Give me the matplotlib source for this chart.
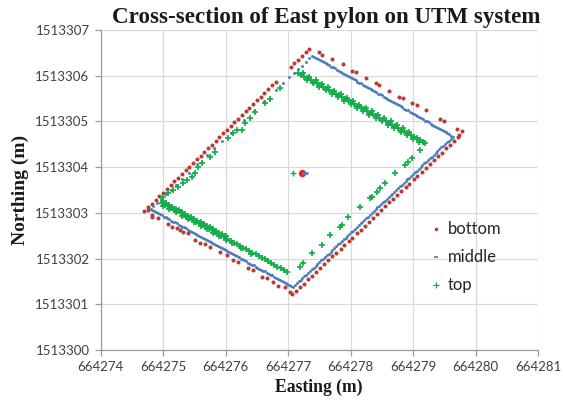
import matplotlib
matplotlib.use("Agg")
import matplotlib.pyplot as plt
from matplotlib.ticker import FormatStrFormatter
from matplotlib.lines import Line2D

# ---- survey points (UTM easting / northing, metres) ----
bottom_e = [
    # north-west face
    664274.70, 664274.76, 664274.82, 664274.88, 664274.94, 664275.00, 664275.06, 664275.12,
    664275.18, 664275.24, 664275.30, 664275.36, 664275.42, 664275.48, 664275.54, 664275.60,
    664275.66, 664275.72, 664275.78, 664275.84, 664275.90, 664275.96, 664276.02, 664276.08,
    664276.14, 664276.20, 664276.26, 664276.32, 664276.38, 664276.44, 664276.50, 664276.56,
    664276.62, 664276.68, 664276.74, 664276.80, 664277.04, 664277.10, 664277.16, 664277.22,
    664277.28, 664277.33,
    # north-east face
    664277.49, 664277.55, 664277.70, 664277.88, 664278.02, 664278.09, 664278.25, 664278.40,
    664278.46, 664278.62, 664278.78, 664278.84, 664278.99, 664279.06, 664279.20, 664279.43,
    664279.50, 664279.71, 664279.78, 664279.74,
    # south-east face
    664277.07, 664277.13, 664277.19, 664277.25, 664277.32, 664277.38, 664277.45, 664277.51,
    664277.58, 664277.64, 664277.71, 664277.77, 664277.84, 664277.90, 664277.97, 664278.03,
    664278.10, 664278.16, 664278.23, 664278.29, 664278.36, 664278.42, 664278.49, 664278.55,
    664278.62, 664278.68, 664278.75, 664278.81, 664278.88, 664278.94, 664279.01, 664279.07,
    664279.14, 664279.20, 664279.27, 664279.33, 664279.40, 664279.46, 664279.53, 664279.59,
    664279.66, 664279.72,
    # south-west face
    664274.76, 664274.82, 664274.83, 664274.92, 664275.08, 664275.14, 664275.22, 664275.27,
    664275.32, 664275.40, 664275.51, 664275.59, 664275.67, 664275.75, 664275.91, 664276.02,
    664276.12, 664276.20, 664276.36, 664276.44, 664276.58, 664276.66, 664276.76, 664276.84,
    664276.95, 664277.03,
]
bottom_n = [
    1513303.04, 1513303.12, 1513303.20, 1513303.28, 1513303.36, 1513303.44, 1513303.52, 1513303.61,
    1513303.69, 1513303.77, 1513303.85, 1513303.93, 1513304.01, 1513304.09, 1513304.17, 1513304.25,
    1513304.33, 1513304.41, 1513304.49, 1513304.57, 1513304.66, 1513304.74, 1513304.82, 1513304.90,
    1513304.98, 1513305.06, 1513305.14, 1513305.22, 1513305.30, 1513305.38, 1513305.46, 1513305.54,
    1513305.62, 1513305.71, 1513305.79, 1513305.87, 1513306.19, 1513306.27, 1513306.35, 1513306.43,
    1513306.51, 1513306.58,
    1513306.51, 1513306.46, 1513306.37, 1513306.26, 1513306.11, 1513306.08, 1513305.95, 1513305.84,
    1513305.80, 1513305.67, 1513305.54, 1513305.51, 1513305.40, 1513305.35, 1513305.24, 1513305.05,
    1513305.01, 1513304.83, 1513304.78, 1513304.71,
    1513301.22, 1513301.30, 1513301.38, 1513301.45, 1513301.55, 1513301.62, 1513301.71, 1513301.79,
    1513301.88, 1513301.96, 1513302.05, 1513302.13, 1513302.22, 1513302.30, 1513302.39, 1513302.46,
    1513302.55, 1513302.63, 1513302.72, 1513302.80, 1513302.89, 1513302.97, 1513303.06, 1513303.14,
    1513303.23, 1513303.31, 1513303.40, 1513303.47, 1513303.57, 1513303.64, 1513303.73, 1513303.81,
    1513303.90, 1513303.98, 1513304.07, 1513304.15, 1513304.24, 1513304.31, 1513304.41, 1513304.48,
    1513304.57, 1513304.65,
    1513303.06, 1513302.95, 1513302.91, 1513302.89, 1513302.76, 1513302.70, 1513302.67, 1513302.63,
    1513302.59, 1513302.56, 1513302.41, 1513302.35, 1513302.32, 1513302.26, 1513302.14, 1513302.08,
    1513301.97, 1513301.93, 1513301.79, 1513301.75, 1513301.60, 1513301.57, 1513301.49, 1513301.40,
    1513301.38, 1513301.27,
]

middle_e = [
    # north-east face
    664277.39, 664277.45, 664277.51, 664277.57, 664277.63, 664277.69, 664277.75, 664277.81,
    664277.87, 664277.93, 664277.99, 664278.05, 664278.11, 664278.17, 664278.23, 664278.29,
    664278.35, 664278.41, 664278.47, 664278.53, 664278.59, 664278.65, 664278.71, 664278.77,
    664278.83, 664278.89, 664278.95, 664279.01, 664279.07, 664279.13, 664279.19, 664279.25,
    664279.31, 664279.37, 664279.43, 664279.49, 664279.55, 664279.61, 664279.64,
    664277.42, 664277.48, 664277.54, 664277.60, 664277.66, 664277.72, 664277.78, 664277.84,
    664277.90, 664277.96, 664278.02, 664278.08, 664278.14, 664278.20, 664278.26, 664278.32,
    664278.38, 664278.44, 664278.50, 664278.56, 664278.62, 664278.68, 664278.74, 664278.80,
    664278.86, 664278.92, 664278.98, 664279.04, 664279.10, 664279.16, 664279.22, 664279.28,
    664279.34, 664279.40, 664279.46, 664279.52, 664279.58,
    # south-east face
    664277.08, 664277.14, 664277.20, 664277.26, 664277.32, 664277.38, 664277.44, 664277.50,
    664277.56, 664277.62, 664277.68, 664277.74, 664277.80, 664277.86, 664277.92, 664277.98,
    664278.04, 664278.10, 664278.16, 664278.22, 664278.28, 664278.34, 664278.40, 664278.46,
    664278.52, 664278.58, 664278.64, 664278.70, 664278.76, 664278.82, 664278.88, 664278.94,
    664279.00, 664279.06, 664279.12, 664279.18, 664279.24, 664279.30, 664279.36, 664279.42,
    664279.48, 664279.54, 664279.60,
    664277.11, 664277.17, 664277.23, 664277.29, 664277.35, 664277.41, 664277.47, 664277.53,
    664277.59, 664277.65, 664277.71, 664277.77, 664277.83, 664277.89, 664277.95, 664278.01,
    664278.07, 664278.13, 664278.19, 664278.25, 664278.31, 664278.37, 664278.43, 664278.49,
    664278.55, 664278.61, 664278.67, 664278.73, 664278.79, 664278.85, 664278.91, 664278.97,
    664279.03, 664279.09, 664279.15, 664279.21, 664279.27, 664279.33, 664279.39, 664279.45,
    664279.51, 664279.57,
    # south-west face
    664274.80, 664274.86, 664274.92, 664274.98, 664275.04, 664275.10, 664275.16, 664275.22,
    664275.28, 664275.34, 664275.40, 664275.46, 664275.52, 664275.58, 664275.64, 664275.70,
    664275.76, 664275.82, 664275.88, 664275.94, 664276.00, 664276.06, 664276.12, 664276.18,
    664276.24, 664276.30, 664276.36, 664276.42, 664276.48, 664276.54, 664276.60, 664276.66,
    664276.72, 664276.78, 664276.84, 664276.90, 664276.96, 664277.02,
    664274.83, 664274.89, 664274.95, 664275.01, 664275.07, 664275.13, 664275.19, 664275.25,
    664275.31, 664275.37, 664275.43, 664275.49, 664275.55, 664275.61, 664275.67, 664275.73,
    664275.79, 664275.85, 664275.91, 664275.97, 664276.03, 664276.09, 664276.15, 664276.21,
    664276.27, 664276.33, 664276.39, 664276.45, 664276.51, 664276.57, 664276.63, 664276.69,
    664276.75, 664276.81, 664276.87, 664276.93, 664276.99, 664277.05,
    # north-west face
    664274.84, 664274.90, 664274.97, 664275.05, 664275.12, 664275.20, 664275.30, 664275.41,
    664275.55, 664275.70, 664275.82, 664275.95, 664276.08, 664276.30, 664276.45, 664276.62,
    664276.80, 664276.92, 664277.02, 664277.10, 664277.16, 664277.22, 664277.28, 664277.34,
]
middle_n = [
    1513306.44, 1513306.39, 1513306.35, 1513306.30, 1513306.25, 1513306.20, 1513306.16, 1513306.11,
    1513306.06, 1513306.02, 1513305.97, 1513305.92, 1513305.87, 1513305.83, 1513305.78, 1513305.73,
    1513305.69, 1513305.64, 1513305.59, 1513305.54, 1513305.50, 1513305.45, 1513305.40, 1513305.35,
    1513305.31, 1513305.26, 1513305.21, 1513305.17, 1513305.12, 1513305.07, 1513305.02, 1513304.98,
    1513304.93, 1513304.88, 1513304.84, 1513304.79, 1513304.74, 1513304.69, 1513304.67,
    1513306.42, 1513306.37, 1513306.32, 1513306.27, 1513306.23, 1513306.18, 1513306.13, 1513306.09,
    1513306.04, 1513305.99, 1513305.94, 1513305.90, 1513305.85, 1513305.80, 1513305.76, 1513305.71,
    1513305.66, 1513305.61, 1513305.57, 1513305.52, 1513305.47, 1513305.43, 1513305.38, 1513305.33,
    1513305.28, 1513305.24, 1513305.19, 1513305.14, 1513305.10, 1513305.05, 1513305.00, 1513304.95,
    1513304.91, 1513304.86, 1513304.81, 1513304.76, 1513304.72,
    1513301.38, 1513301.46, 1513301.53, 1513301.61, 1513301.69, 1513301.77, 1513301.84, 1513301.92,
    1513302.00, 1513302.07, 1513302.15, 1513302.23, 1513302.31, 1513302.38, 1513302.46, 1513302.54,
    1513302.61, 1513302.69, 1513302.77, 1513302.85, 1513302.92, 1513303.00, 1513303.08, 1513303.15,
    1513303.23, 1513303.31, 1513303.38, 1513303.46, 1513303.54, 1513303.62, 1513303.69, 1513303.77,
    1513303.85, 1513303.92, 1513304.00, 1513304.08, 1513304.16, 1513304.23, 1513304.31, 1513304.39,
    1513304.46, 1513304.54, 1513304.62,
    1513301.42, 1513301.50, 1513301.57, 1513301.65, 1513301.73, 1513301.80, 1513301.88, 1513301.96,
    1513302.04, 1513302.11, 1513302.19, 1513302.27, 1513302.34, 1513302.42, 1513302.50, 1513302.58,
    1513302.65, 1513302.73, 1513302.81, 1513302.88, 1513302.96, 1513303.04, 1513303.12, 1513303.19,
    1513303.27, 1513303.35, 1513303.42, 1513303.50, 1513303.58, 1513303.65, 1513303.73, 1513303.81,
    1513303.89, 1513303.96, 1513304.04, 1513304.12, 1513304.19, 1513304.27, 1513304.35, 1513304.43,
    1513304.50, 1513304.58,
    1513303.08, 1513303.04, 1513302.99, 1513302.95, 1513302.90, 1513302.86, 1513302.81, 1513302.77,
    1513302.72, 1513302.68, 1513302.63, 1513302.59, 1513302.54, 1513302.50, 1513302.45, 1513302.41,
    1513302.36, 1513302.32, 1513302.27, 1513302.23, 1513302.18, 1513302.14, 1513302.09, 1513302.05,
    1513302.00, 1513301.96, 1513301.91, 1513301.87, 1513301.82, 1513301.78, 1513301.73, 1513301.69,
    1513301.64, 1513301.60, 1513301.56, 1513301.51, 1513301.47, 1513301.42,
    1513303.06, 1513303.01, 1513302.97, 1513302.92, 1513302.88, 1513302.83, 1513302.79, 1513302.74,
    1513302.70, 1513302.66, 1513302.61, 1513302.57, 1513302.52, 1513302.48, 1513302.43, 1513302.39,
    1513302.34, 1513302.30, 1513302.25, 1513302.21, 1513302.16, 1513302.12, 1513302.07, 1513302.03,
    1513301.98, 1513301.94, 1513301.89, 1513301.85, 1513301.80, 1513301.76, 1513301.72, 1513301.67,
    1513301.63, 1513301.58, 1513301.54, 1513301.49, 1513301.45, 1513301.40,
    1513303.14, 1513303.22, 1513303.31, 1513303.41, 1513303.51, 1513303.61, 1513303.74, 1513303.88,
    1513304.06, 1513304.26, 1513304.41, 1513304.58, 1513304.75, 1513305.04, 1513305.23, 1513305.45,
    1513305.69, 1513305.84, 1513305.97, 1513306.07, 1513306.15, 1513306.22, 1513306.30, 1513306.38,
]

top_e = [
    # south-west face
    664274.98, 664275.03, 664275.08, 664275.13, 664275.18, 664275.23, 664275.28, 664275.33,
    664275.38, 664275.43, 664275.48, 664275.53, 664275.58, 664275.63, 664275.68, 664275.73,
    664275.78, 664275.83, 664275.88, 664275.93, 664275.98, 664276.03, 664276.08, 664276.13,
    664276.18, 664276.23, 664276.28, 664276.33, 664276.38, 664276.43, 664276.48, 664276.53,
    664276.58, 664276.63, 664276.68, 664276.73, 664276.78, 664276.83, 664276.88, 664276.93,
    664276.98,
    664275.00, 664275.10, 664275.20, 664275.30, 664275.40, 664275.50, 664275.60, 664275.70,
    664275.80, 664275.90, 664276.00, 664276.10, 664276.25, 664276.40,
    664275.00, 664275.05, 664275.10, 664275.15, 664275.20, 664275.25, 664275.30, 664275.35,
    664275.40, 664275.45, 664275.50, 664275.55, 664275.60, 664275.65, 664275.70, 664275.75,
    664275.80, 664275.85, 664275.90, 664275.95, 664276.00,
    # north-east face
    664277.16, 664277.21, 664277.26, 664277.31, 664277.36, 664277.41, 664277.46, 664277.51,
    664277.56, 664277.61, 664277.66, 664277.71, 664277.76, 664277.81, 664277.86, 664277.91,
    664277.96, 664278.01, 664278.06, 664278.11, 664278.16, 664278.21, 664278.26, 664278.31,
    664278.36, 664278.41, 664278.46, 664278.51, 664278.56, 664278.61, 664278.66, 664278.71,
    664278.76, 664278.81, 664278.86, 664278.91, 664278.96, 664279.01, 664279.06, 664279.11,
    664279.16, 664279.19,
    664277.24, 664277.34, 664277.44, 664277.54, 664277.64, 664277.74, 664277.84, 664277.94,
    664278.04, 664278.14, 664278.24, 664278.34, 664278.44, 664278.54, 664278.64, 664278.74,
    664278.84, 664278.94,
    664277.30, 664277.40, 664277.50, 664277.60, 664277.70, 664277.80, 664277.90, 664278.00,
    664278.10, 664278.20, 664278.30, 664278.40, 664278.50, 664278.60, 664278.70, 664278.80,
    664278.90, 664279.00, 664279.10,
    # north-west face
    664275.00, 664275.08, 664275.16, 664275.24, 664275.32, 664275.38, 664275.46, 664275.51,
    664275.56, 664275.62, 664275.75, 664275.83, 664276.04, 664276.12, 664276.18, 664276.26,
    664276.31, 664276.39, 664276.47, 664276.63, 664276.71, 664276.87,
    # south-east face
    664277.19, 664277.24, 664277.38, 664277.54, 664277.67, 664277.83, 664277.86, 664277.96,
    664278.15, 664278.31, 664278.34, 664278.43, 664278.47, 664278.55, 664278.71, 664278.87,
    664278.92, 664278.98, 664279.11,
]
top_n = [
    1513303.22, 1513303.18, 1513303.14, 1513303.11, 1513303.07, 1513303.03, 1513302.99, 1513302.96,
    1513302.92, 1513302.88, 1513302.84, 1513302.80, 1513302.77, 1513302.73, 1513302.69, 1513302.65,
    1513302.62, 1513302.58, 1513302.54, 1513302.50, 1513302.47, 1513302.43, 1513302.39, 1513302.35,
    1513302.31, 1513302.28, 1513302.24, 1513302.20, 1513302.16, 1513302.13, 1513302.09, 1513302.05,
    1513302.01, 1513301.98, 1513301.94, 1513301.90, 1513301.86, 1513301.82, 1513301.79, 1513301.75,
    1513301.71,
    1513303.16, 1513303.09, 1513303.01, 1513302.94, 1513302.86, 1513302.79, 1513302.71, 1513302.64,
    1513302.56, 1513302.49, 1513302.41, 1513302.34, 1513302.23, 1513302.11,
    1513303.25, 1513303.21, 1513303.17, 1513303.13, 1513303.09, 1513303.06, 1513303.02, 1513302.98,
    1513302.94, 1513302.91, 1513302.87, 1513302.83, 1513302.79, 1513302.75, 1513302.72, 1513302.68,
    1513302.64, 1513302.60, 1513302.57, 1513302.53, 1513302.49,
    1513306.06, 1513306.02, 1513305.98, 1513305.95, 1513305.91, 1513305.87, 1513305.83, 1513305.80,
    1513305.76, 1513305.72, 1513305.68, 1513305.65, 1513305.61, 1513305.57, 1513305.53, 1513305.49,
    1513305.46, 1513305.42, 1513305.38, 1513305.34, 1513305.31, 1513305.27, 1513305.23, 1513305.19,
    1513305.16, 1513305.12, 1513305.08, 1513305.04, 1513305.00, 1513304.97, 1513304.93, 1513304.89,
    1513304.85, 1513304.82, 1513304.78, 1513304.74, 1513304.70, 1513304.67, 1513304.63, 1513304.59,
    1513304.55, 1513304.53,
    1513306.05, 1513305.97, 1513305.90, 1513305.82, 1513305.75, 1513305.67, 1513305.60, 1513305.52,
    1513305.45, 1513305.37, 1513305.30, 1513305.22, 1513305.15, 1513305.07, 1513305.00, 1513304.92,
    1513304.85, 1513304.77,
    1513305.90, 1513305.83, 1513305.75, 1513305.68, 1513305.60, 1513305.53, 1513305.45, 1513305.38,
    1513305.30, 1513305.23, 1513305.15, 1513305.08, 1513305.00, 1513304.92, 1513304.85, 1513304.77,
    1513304.70, 1513304.62, 1513304.55,
    1513303.35, 1513303.43, 1513303.50, 1513303.57, 1513303.65, 1513303.72, 1513303.79, 1513303.87,
    1513304.00, 1513304.09, 1513304.22, 1513304.33, 1513304.64, 1513304.74, 1513304.81, 1513304.81,
    1513304.97, 1513305.08, 1513305.21, 1513305.40, 1513305.49, 1513305.73,
    1513301.82, 1513301.90, 1513302.12, 1513302.30, 1513302.52, 1513302.69, 1513302.74, 1513302.91,
    1513303.13, 1513303.33, 1513303.35, 1513303.46, 1513303.54, 1513303.65, 1513303.87, 1513304.05,
    1513304.12, 1513304.20, 1513304.38,
]

# pylon centre computed for each level
centre_labels = ["bottom", "middle", "top"]
centre_e = [664277.22, 664277.27, 664277.08]
centre_n = [1513303.87, 1513303.87, 1513303.87]

x_ticks = list(range(664274, 664282))
y_ticks = list(range(1513300, 1513308))

RED = "#B83C36"
BLUE = "#4A7DBE"
GREEN = "#14AD4A"
GRID = "#D9D9D9"
AXIS = "#9A9A9A"
TEXT = "#404040"

plt.rcParams["font.family"] = ["Lato", "DejaVu Sans"]

fig = plt.figure(figsize=(5.63, 4.05), dpi=100)
ax = fig.add_axes([100.5 / 563, 1 - 350 / 405, (538 - 100.5) / 563, (350 - 30) / 405])

ax.scatter(bottom_e, bottom_n, s=8.5, color=RED, marker="o", linewidths=0, zorder=3)
ax.scatter(middle_e, middle_n, s=4.5, color=BLUE, marker="o", linewidths=0, zorder=4)
ax.scatter(top_e, top_n, s=17, color=GREEN, marker="+", linewidths=1.25, zorder=5)

# centre markers
ax.scatter([centre_e[0]], [centre_n[0]], s=28, color="#FF1A1A", marker="o", linewidths=0, zorder=6)
ax.scatter([centre_e[1]], [centre_n[1]], s=20, color=BLUE, marker="_", linewidths=2.0, zorder=6)
ax.scatter([centre_e[2]], [centre_n[2]], s=24, color=GREEN, marker="+", linewidths=1.0, zorder=6)

ax.set_xlim(x_ticks[0], x_ticks[-1])
ax.set_ylim(y_ticks[0], y_ticks[-1])
ax.set_xticks(x_ticks)
ax.set_yticks(y_ticks)
ax.xaxis.set_major_formatter(FormatStrFormatter("%d"))
ax.yaxis.set_major_formatter(FormatStrFormatter("%d"))

ax.grid(True, color=GRID, linewidth=0.9, zorder=0)
ax.set_axisbelow(True)
for side in ("top", "right"):
    ax.spines[side].set_visible(False)
for side in ("left", "bottom"):
    ax.spines[side].set_color(AXIS)
    ax.spines[side].set_linewidth(0.9)
ax.tick_params(axis="both", direction="out", length=4, width=0.9, color=AXIS,
               labelsize=9.5, labelcolor=TEXT, pad=4)

handles = [
    Line2D([], [], linestyle="none", marker="o", markersize=2.6, color=RED, markeredgewidth=0),
    Line2D([], [], linestyle="none", marker="_", markersize=3, color=BLUE, markeredgewidth=1.2),
    Line2D([], [], linestyle="none", marker="+", markersize=4, color=GREEN, markeredgewidth=0.9),
]
ax.legend(handles, centre_labels, loc="upper left", bbox_to_anchor=(421 / 563, 1 - 213 / 405),
          bbox_transform=fig.transFigure, frameon=False, fontsize=12, labelcolor="#262626",
          handlelength=0.8, handletextpad=0.3, labelspacing=0.72, borderpad=0)

fig.text(326 / 563, 1 - 18 / 405, "Cross-section of East pylon on UTM system",
         ha="center", va="center", fontsize=16.6, fontweight="bold",
         family="Liberation Serif", color="#1a1a1a")
fig.text(319 / 563, 1 - 387 / 405, "Easting (m)", ha="center", va="center",
         fontsize=12.7, fontweight="bold", family="Liberation Serif", color="#1a1a1a")
fig.text(20 / 563, 1 - 190 / 405, "Northing (m)", ha="center", va="center", rotation=90,
         fontsize=14, fontweight="bold", family="Liberation Serif", color="#1a1a1a")

fig.savefig("out.png", dpi=100, facecolor="white")
